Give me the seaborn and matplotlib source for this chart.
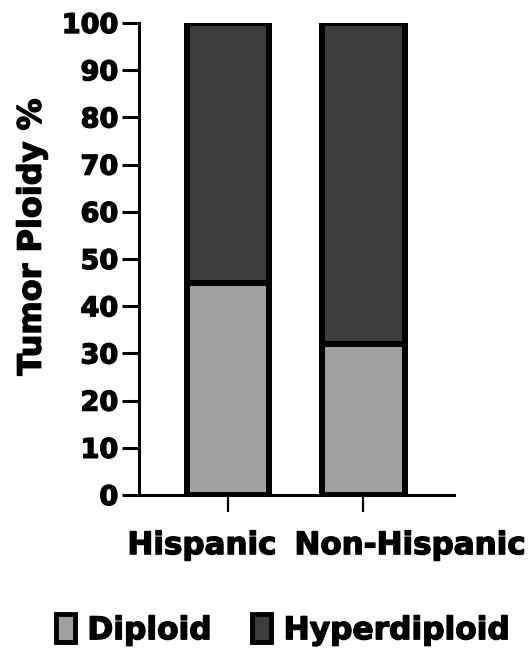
import numpy as np
import pandas as pd
import matplotlib
matplotlib.use("Agg")
import matplotlib.pyplot as plt
import matplotlib.patheffects as pe
import seaborn as sns
from matplotlib.patches import Patch
from matplotlib.transforms import ScaledTranslation

groups = ["Hispanic", "Non-Hispanic"]
diploid = [45, 32]
hyperdiploid = [55, 68]
yticks = [0, 10, 20, 30, 40, 50, 60, 70, 80, 90, 100]

light = "#a0a0a0"
dark = "#3c3c3c"

sns.set_style("ticks")
plt.rcParams["font.family"] = ["DejaVu Sans"]
plt.rcParams["font.weight"] = "bold"
plt.rcParams["text.color"] = "black"
plt.rcParams["axes.labelcolor"] = "black"
plt.rcParams["xtick.color"] = "black"
plt.rcParams["ytick.color"] = "black"

heavy = [pe.withStroke(linewidth=1.0, foreground="black")]

fig = plt.figure(figsize=(5.29, 6.52), dpi=100)
ax = fig.add_axes([139/529, 1-495/652, (454-139)/529, (495-23)/652])

total = np.add(diploid, hyperdiploid)
df_tot = pd.DataFrame({"group": groups, "value": total})
df_dip = pd.DataFrame({"group": groups, "value": diploid})

lw = 4.3
sns.barplot(data=df_tot, x="group", y="value", color=dark, saturation=1,
            width=0.61, edgecolor="black", linewidth=lw, ax=ax, zorder=2)
sns.barplot(data=df_dip, x="group", y="value", color=light, saturation=1,
            width=0.61, edgecolor="black", linewidth=lw, ax=ax, zorder=3)

ax.set_ylim(0, 100)
ax.set_xlim(-0.66, 1.67)
ax.set_yticks(yticks)
ax.set_yticklabels([str(t) for t in yticks], fontsize=19.5, fontweight="bold",
                   color="black", path_effects=heavy)
ax.set_xticks([0, 1])
ax.set_xticklabels(groups, fontsize=22.3, fontweight="bold", color="black",
                   path_effects=heavy)
ax.set_xlabel("")
ax.set_ylabel("Tumor Ploidy %", fontsize=23, fontweight="bold", color="black",
              path_effects=heavy)
ax.yaxis.set_label_coords(-0.29, 0.547)

for side in ["top", "right"]:
    ax.spines[side].set_visible(False)
for side in ["left", "bottom"]:
    ax.spines[side].set_linewidth(2.2)
    ax.spines[side].set_color("black")
ax.tick_params(axis="y", length=12, width=2.2, pad=3, colors="black")
ax.tick_params(axis="x", length=12, width=1.6, pad=14, colors="black")

shifts = [-0.26, 0.47]
for lab, dx in zip(ax.get_xticklabels(), shifts):
    lab.set_transform(lab.get_transform() + ScaledTranslation(dx, 0, fig.dpi_scale_trans))

handles = [Patch(facecolor=light, edgecolor="black", linewidth=3.5),
           Patch(facecolor=dark, edgecolor="black", linewidth=3.5)]
leg = fig.legend(handles, ["Diploid", "Hyperdiploid"], loc="center",
                 bbox_to_anchor=(0.535, 0.034), ncol=2, frameon=False,
                 prop={"size": 22.5, "weight": "bold"},
                 handlelength=0.6, handleheight=1.0, handletextpad=0.4,
                 columnspacing=1.3, borderpad=0)
for t in leg.get_texts():
    t.set_color("black")
    t.set_path_effects(heavy)

fig.savefig("out.png", dpi=100)
